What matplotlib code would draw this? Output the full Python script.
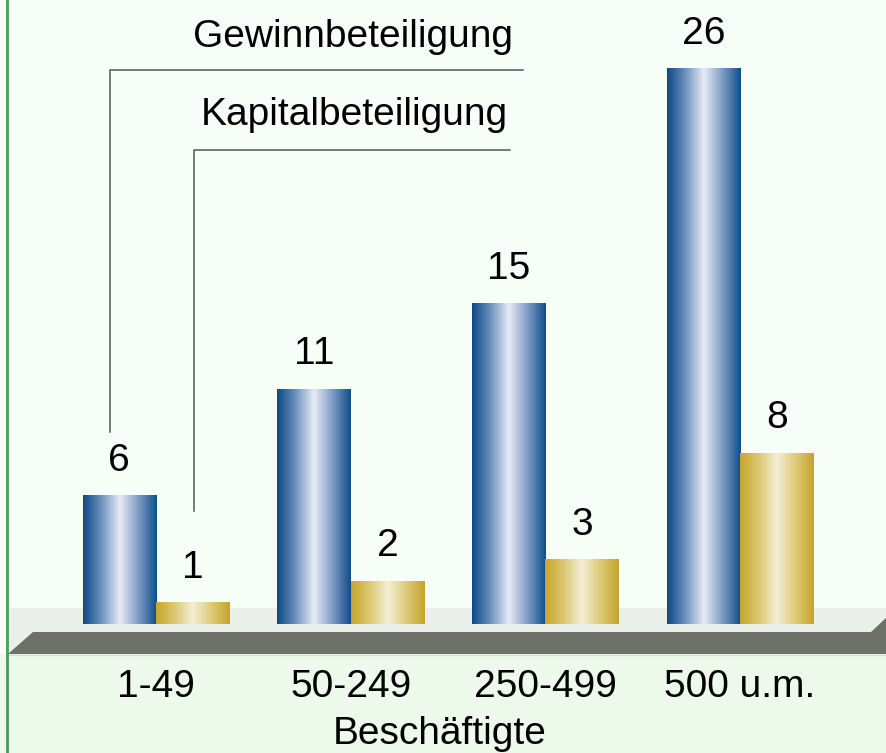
import numpy as np
import matplotlib
matplotlib.use("Agg")
import matplotlib.pyplot as plt
from matplotlib.colors import LinearSegmentedColormap
from matplotlib.patches import Rectangle, Polygon
from matplotlib.lines import Line2D
from matplotlib.transforms import blended_transform_factory

# ---- data ----
categories = ["1-49", "50-249", "250-499", "500 u.m."]
gewinn = [6, 11, 15, 26]
kapital = [1, 2, 3, 8]
series_names = ["Gewinnbeteiligung", "Kapitalbeteiligung"]
xlabel = "Beschäftigte"

W, H = 886, 753
plt.rcParams['font.family'] = ['Liberation Sans', 'DejaVu Sans']
FS = 28

fig = plt.figure(figsize=(W / 100, H / 100), dpi=100)
fig.patch.set_facecolor('#F7FEF8')

def P(x, y):
    """pixel (top-left origin) -> figure fraction"""
    return (x / W, 1 - y / H)

tf = fig.transFigure
# bottom light green area
fig.patches.append(Rectangle(P(0, H), 1, (H - 654) / H, transform=tf,
                             facecolor='#EDFAEB', edgecolor='none', zorder=0))
# light gray floor band
fig.patches.append(Rectangle(P(8, 654), 1, (654 - 608) / H, transform=tf,
                             facecolor='#EBEFEA', edgecolor='none', zorder=0))
# thin light line under floor
fig.lines.append(Line2D([P(8, 655)[0], 1], [P(8, 655)[1]] * 2, transform=tf,
                        color='#D3DDD2', lw=1.0, zorder=0.5))
# dark slab
slab = [P(8, 654), P(33, 632), P(871, 632), P(887, 617), P(887, 654)]
fig.patches.append(Polygon(slab, closed=True, transform=tf,
                           facecolor='#6C7069', edgecolor='none', zorder=0.6))
# green left border
fig.lines.append(Line2D([P(7, 0)[0]] * 2, [0, 1], transform=tf,
                        color='#4A9C55', lw=2.0, zorder=5))

# ---- axes ----
px_unit_y = 21.35
x0c, dx = 156.0, 194.67
ymax = 28
ax_h = ymax * px_unit_y
ax = fig.add_axes([0, (H - 624) / H, 1, ax_h / H])
ax.set_xlim(-x0c / dx, (W - x0c) / dx)
ax.set_ylim(0, ymax)
ax.axis('off')
ax.patch.set_alpha(0)
ax.set_zorder(2)

bw = 73.5 / dx
x = np.arange(len(categories))

blue_cmap = LinearSegmentedColormap.from_list(
    'b', [(0, '#0B4A86'), (0.22, '#5F87B6'), (0.5, '#E8EBF6'),
          (0.78, '#7393BF'), (1, '#0E4E8A')])
gold_cmap = LinearSegmentedColormap.from_list(
    'g', [(0, '#C7A62A'), (0.25, '#DCC772'), (0.5, '#F4EED6'),
          (0.75, '#DECA78'), (1, '#C5A42C')])

bars_g = ax.bar(x - bw / 2, gewinn, width=bw, color='none', edgecolor='none')
bars_k = ax.bar(x + bw / 2, kapital, width=bw, color='none', edgecolor='none')
grad = np.linspace(0, 1, 256).reshape(1, -1)
for bars, cmap in ((bars_g, blue_cmap), (bars_k, gold_cmap)):
    for r in bars:
        bx, by, bwid, bh = r.get_x(), r.get_y(), r.get_width(), r.get_height()
        ax.imshow(grad, cmap=cmap, aspect='auto',
                  extent=[bx, bx + bwid, by, by + bh], zorder=3,
                  interpolation='bilinear')
        ax.annotate(f"{bh:g}", (bx + bwid / 2, by + bh), xytext=(0, 18),
                    textcoords='offset points', ha='center', va='baseline',
                    fontsize=FS, color='black', zorder=4)
ax.set_xlim(-x0c / dx, (W - x0c) / dx)
ax.set_ylim(0, ymax)

# category labels
bt = blended_transform_factory(ax.transData, fig.transFigure)
for i, c in enumerate(categories):
    ax.text(i, P(0, 697)[1], c, transform=bt, ha='center', va='baseline',
            fontsize=FS, color='black')
fig.text(P(440, 0)[0], P(0, 744)[1], xlabel, ha='center', va='baseline',
         fontsize=FS, color='black')

# leader lines and series labels
lc = '#555555'
for (xv, yh, xe, yend, tx, ty, name) in (
        (110, 70, 523, 432, 513, 47, series_names[0]),
        (194, 150, 510, 511, 508, 125, series_names[1])):
    xs = [P(xv, 0)[0], P(xv, 0)[0], P(xe, 0)[0]]
    ys = [P(0, yend)[1], P(0, yh)[1], P(0, yh)[1]]
    fig.lines.append(Line2D(xs, ys, transform=tf, color=lc, lw=1.1, zorder=3))
    fig.text(P(tx, 0)[0], P(0, ty)[1], name, ha='right', va='baseline',
             fontsize=FS, color='black')

fig.savefig('out.png', dpi=100, facecolor=fig.get_facecolor())
